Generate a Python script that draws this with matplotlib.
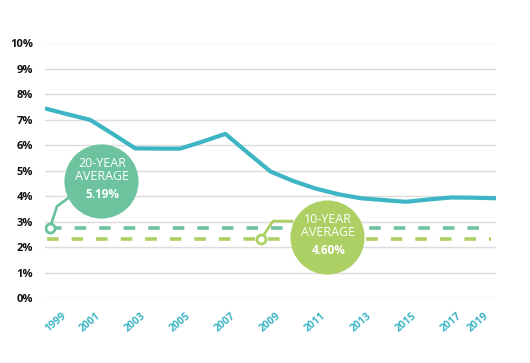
import matplotlib
matplotlib.use('Agg')
import matplotlib.pyplot as plt
import matplotlib.transforms as mtransforms

plt.rcParams['font.family'] = ['Open Sans', 'DejaVu Sans']

# data
years = list(range(1999, 2020))
rate = [7.45, 7.22, 7.0, 6.45, 5.88, 5.87, 5.87, 6.15, 6.45, 5.7, 4.97,
        4.6, 4.3, 4.08, 3.92, 3.85, 3.78, 3.87, 3.95, 3.94, 3.92]
tick_years = list(range(1999, 2020, 2))
y_ticks = list(range(0, 11))

avg20_level = 2.75
avg10_level = 2.32
avg20_label = ['20-YEAR', 'AVERAGE', '5.19%']
avg10_label = ['10-YEAR', 'AVERAGE', '4.60%']

line_c = '#3db5c4'
c20 = '#6cc39e'
c10 = '#acd064'

fig = plt.figure(figsize=(5.3, 3.63), dpi=100)
ax = fig.add_axes([45 / 530, 1 - 298 / 363, (496 - 45) / 530, (298 - 43.5) / 363])

for y in y_ticks:
    ax.axhline(y, color='#dcdcdc', lw=1, zorder=0)

ax.plot(years, rate, color=line_c, lw=3.0, solid_capstyle='butt', zorder=3)

# average lines
ax.plot([1999.2, 2018.6], [avg20_level] * 2, color=c20, lw=2.6,
        dashes=(3.2, 3.6), zorder=2)
ax.plot([1999.1, 2018.8], [avg10_level] * 2, color=c10, lw=2.6,
        dashes=(3.2, 3.6), zorder=2)

# connectors + bubbles
ax.plot([1999.22, 1999.53, 2000.2], [avg20_level, 3.6, 4.04], color=c20, lw=2, zorder=4)
ax.plot([1999.22], [avg20_level], 'o', ms=6.5, mfc='white', mec=c20, mew=2, zorder=5)
ax.plot([2008.58, 2009.11, 2009.95], [avg10_level, 3.02, 3.02], color=c10, lw=2, zorder=4)
ax.plot([2008.58], [avg10_level], 'o', ms=6.5, mfc='white', mec=c10, mew=2, zorder=5)

for (cx, cy), col, lab in [((2001.5, 4.6), c20, avg20_label),
                           ((2011.5, 2.4), c10, avg10_label)]:
    ax.scatter([cx], [cy], s=2850, color=col, zorder=6, linewidths=0, clip_on=False)
    ax.annotate(lab[0], (cx, cy), xytext=(0.5, 12.5), textcoords='offset points',
                ha='center', va='center', color='white', fontsize=9, zorder=7)
    ax.annotate(lab[1], (cx, cy), xytext=(0.5, 3), textcoords='offset points',
                ha='center', va='center', color='white', fontsize=9, zorder=7)
    ax.annotate(lab[2], (cx, cy), xytext=(1, -10), textcoords='offset points',
                ha='center', va='center', color='white', fontsize=8.5,
                fontweight='bold', zorder=7)

ax.set_xlim(1999, 2019)
ax.set_ylim(0, 10)
ax.set_yticks(y_ticks)
ax.set_yticklabels([f'{y}%' for y in y_ticks], fontsize=8, fontweight='bold', color='#111111')
ax.set_xticks(tick_years)
ax.set_xticklabels([str(y) for y in tick_years], rotation=40, ha='center', va='top',
                   fontsize=7.5, fontweight='bold', color=line_c)
ax.tick_params(length=0, axis='y', pad=8.5)
ax.tick_params(length=0, axis='x', pad=9)

labs = ax.get_xticklabels()
labs[0].set_transform(labs[0].get_transform() + mtransforms.ScaledTranslation(0.11, 0, fig.dpi_scale_trans))
labs[-1].set_transform(labs[-1].get_transform() + mtransforms.ScaledTranslation(-0.18, 0, fig.dpi_scale_trans))

for s in ax.spines.values():
    s.set_visible(False)

fig.savefig('out.png', dpi=100)
